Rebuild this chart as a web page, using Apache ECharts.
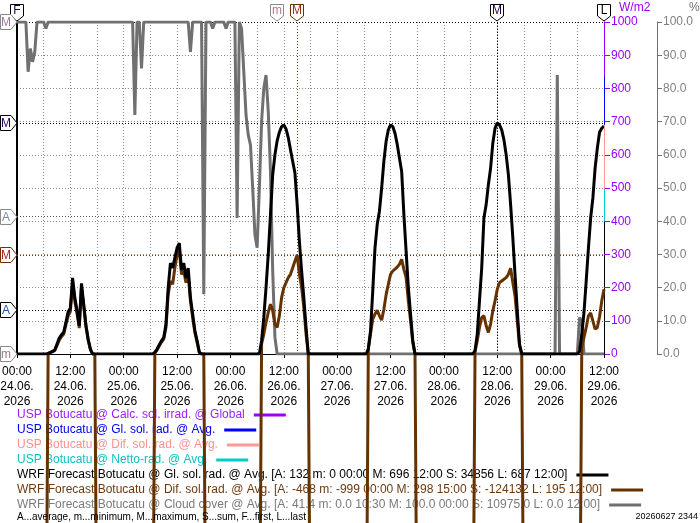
<!DOCTYPE html>
<html>
<head>
<meta charset="utf-8">
<script src="https://cdn.jsdelivr.net/npm/echarts@6/dist/echarts.min.js"></script>
<style>
  html, body { margin: 0; padding: 0; background: #fff; }
  #chart { width: 700px; height: 523px; }
</style>
</head>
<body>
<div id="chart"></div>
<script>
// half-hourly values, one row per day, 24.06. 00:00 .. 29.06. 12:00
const glDay1 = [0,0,0,0,0,0,0,0,0,0,0,0,0,0,
  2,5,8,12,30,48,58,66,95,127,138,229,170,130,85,213,150,87,45,15,0,0,
  0,0,0,0,0,0,0,0,0,0,0,0]
const glDay2 = [0,0,0,0,0,0,0,0,0,0,0,0,0,0,
  5,15,28,40,50,90,200,274,259,290,320,334,253,274,229,259,170,120,70,40,5,0,
  0,0,0,0,0,0,0,0,0,0,0,0]
const glDay3 = [0,0,0,0,0,0,0,0,0,0,0,0,0,0,
  40,110,200,300,420,540,600,642,668,685,690,678,652,615,580,545,450,340,250,170,80,0,
  0,0,0,0,0,0,0,0,0,0,0,0]
const glDay4 = [0,0,0,0,0,0,0,0,0,0,0,0,0,0,
  15,70,190,319,390,430,500,580,640,675,690,685,665,632,590,550,420,310,200,120,40,0,
  0,0,0,0,0,0,0,0,0,0,0,0]
const glDay5 = [0,0,0,0,0,0,0,0,0,0,0,0,0,0,
  10,60,160,259,410,450,510,560,635,680,696,690,675,645,600,540,450,350,238,130,30,0,
  0,0,0,0,0,0,0,0,0,0,0,0]
const glDay6 = [0,0,0,0,0,0,0,0,0,0,0,0,0,
  8,60,125,220,319,410,470,560,620,668,680,687]

const difDay1 = [-999,-999,-999,-999,-999,-999,-999,-999,-999,-999,-999,-999,-999,-999,
  2,4,7,11,26,42,52,60,88,115,128,215,160,122,78,200,145,83,42,13,0,0,
  -999,-999,-999,-999,-999,-999,-999,-999,-999,-999,-999,-999]
const difDay2 = [-999,-999,-999,-999,-999,-999,-999,-999,-999,-999,-999,-999,-999,-999,
  3,12,25,36,45,80,180,220,210,260,300,310,240,250,215,240,160,110,65,35,5,0,0,
  -999,-999,-999,-999,-999,-999,-999,-999,-999,-999,-999]
const difDay3 = [-999,-999,-999,-999,-999,-999,-999,-999,-999,-999,-999,-999,-999,-999,
  30,60,95,125,150,130,90,80,115,170,199,215,230,240,260,280,298,240,200,140,60,0,
  -999,-999,-999,-999,-999,-999,-999,-999,-999,-999,-999,-999]
const difDay4 = [-999,-999,-999,-999,-999,-999,-999,-999,-999,-999,-999,-999,-999,-999,
  15,60,105,120,132,115,102,135,178,210,240,250,256,262,270,285,255,230,160,100,35,0,
  -999,-999,-999,-999,-999,-999,-999,-999,-999,-999,-999,-999]
const difDay5 = [-999,-999,-999,-999,-999,-999,-999,-999,-999,-999,-999,-999,-999,-999,
  8,40,80,110,115,85,65,90,130,160,195,215,220,225,230,240,258,215,175,100,25,0,
  -999,-999,-999,-999,-999,-999,-999,-999,-999,-999,-999,-999]
const difDay6 = [-999,-999,-999,-999,-999,-999,-999,-999,-999,-999,-999,-999,-999,-999,
  18,50,80,115,124,100,75,80,112,160,195]

const cloudDay1 = [100,100,100,100,100,85,92,88,91,100,100,100,100,98,
  100,100,100,100,100,100,100,100,100,100,100,100,100,100,100,100,100,100,100,100,
  100,100,100,100,100,100,100,100,100,100,100,100,100,100]
const cloudDay2 = [100,100,100,100,100,72,100,100,86,100,
  100,100,100,100,100,100,100,100,100,100,100,100,100,100,100,100,100,100,100,
  100,91,100,100,100,100,100,18,100,100,100,98,100,100,100,100,100,98,100]
const cloudDay3 = [100,100,100,41,100,98,85,72,66,63,50,36,32,50,70,80,84,73,55,25,5,
  0,0,0,0,0,0,0,0,0,0,0,0,0,0,0,0,0,0,0,0,0,0,0,0,0,0,0]
const cloudDay4 = [0,0,0,0,0,0,0,0,0,0,0,0,0,0,0,0,0,0,0,0,0,0,0,0,
  0,0,0,0,0,0,0,0,0,0,0,0,0,0,0,0,0,0,0,0,0,0,0,0]
const cloudDay5 = [0,0,0,0,0,0,0,0,0,0,0,0,0,0,0,0,0,0,0,0,0,0,0,0,
  0,0,0,0,0,0,0,0,0,0,0,0,0,0,0,0,0,0,0,0,0,0,0,0]
const cloudDay6 = [0,0,0,84,0,0,0,0,0,0,0,0,0,11,10,0,0,0,0,0,0,0,0,0,0]

const glRad = [].concat(glDay1, glDay2, glDay3, glDay4, glDay5, glDay6)
const difRad = [].concat(difDay1, difDay2, difDay3, difDay4, difDay5, difDay6)
const cloud = [].concat(cloudDay1, cloudDay2, cloudDay3, cloudDay4, cloudDay5, cloudDay6)

// statistics shown as A/m/M markers (hour = hours since 24.06. 00:00)
const glStats = { avg: 132, max: 696, maxHour: 108 }
const difStats = { max: 298, maxHour: 63 }
const cloudStats = { avg: 41.4, max: 100, min: 0, minHour: 58.5 }

const timeLabels = ['00:00', '12:00']
const dateLabels = ['24.06.', '25.06.', '26.06.', '27.06.', '28.06.', '29.06.']
const yearLabel = '2026'

const names = [
  'USP Botucatu @ Calc. sol. irrad. @ Global',
  'USP Botucatu @ Gl. sol. rad. @ Avg.',
  'USP Botucatu @ Dif. sol. rad. @ Avg.',
  'USP Botucatu @ Netto-rad. @ Avg.',
  'WRF Forecast Botucatu @ Gl. sol. rad. @ Avg. [A: 132 m: 0 00:00 M: 696 12:00 S: 34856 L: 687 12:00]',
  'WRF Forecast Botucatu @ Dif. sol. rad. @ Avg. [A: -468 m: -999 00:00 M: 298 15:00 S: -124132 L: 195 12:00]',
  'WRF Forecast Botucatu @ Cloud cover @ Avg. [A: 41.4 m: 0.0 10:30 M: 100.0 00:00 S: 10975.0 L: 0.0 12:00]',
]
const lineColors = ['#9900ff', '#0000ff', '#ff9999', '#00cccc', '#000000', '#663300', '#707070']
const textColors = ['#9a1eff', '#0000ee', '#ff9090', '#10c0c0', '#000000', '#6e3a10', '#7a7a7a']

const FONT = '"Liberation Sans", Arial, sans-serif'
const PURPLE = '#9900ff'

const hours = glRad.map((v, i) => i * 0.5)
const pairs = (arr) => arr.map((v, i) => [hours[i], v])

const chart = echarts.init(document.getElementById('chart'))

const dotted = (color) => ({ color: color, width: 1, type: [1, 2] })

const emptySeries = [0, 1, 2, 3].map((i) => ({
  name: names[i],
  type: 'line',
  data: [],
  color: lineColors[i],
  yAxisIndex: 0,
}))

chart.setOption({
  animation: false,
  textStyle: { fontFamily: FONT },
  grid: { left: 17, right: 96, top: 22, bottom: 169, outerBoundsMode: 'none' },
  legend: names.map((n, i) => ({
    left: 17,
    top: 407.5 + i * 15,
    padding: 0,
    align: 'right',
    icon: 'rect',
    itemWidth: 32,
    itemHeight: 3,
    selectedMode: false,
    z: 3,
    textStyle: { fontSize: 12, lineHeight: 15, fontFamily: FONT, padding: [0, 4, 0, 0] },
    data: [{ name: n, textStyle: { color: textColors[i] } }],
  })),
  xAxis: {
    type: 'value',
    min: 0,
    max: 132,
    interval: 12,
    axisLine: { show: true, onZero: false, lineStyle: { color: '#000' } },
    axisTick: { show: true, length: 4, lineStyle: { color: '#000' } },
    axisLabel: {
      color: '#000',
      fontSize: 12,
      lineHeight: 15,
      margin: 10,
      formatter: (v) => timeLabels[(v % 24) / 12] + '\n' + dateLabels[Math.floor(v / 24)] + '\n' + yearLabel,
    },
    splitLine: { show: true, lineStyle: dotted('#8c8c8c') },
    minorTick: { show: false, splitNumber: 2 },
    minorSplitLine: { show: true, lineStyle: dotted('#8c8c8c') },
  },
  yAxis: [
    {
      type: 'value',
      min: 0,
      max: 1000,
      interval: 100,
      position: 'right',
      axisLine: { show: true, onZero: false, lineStyle: { color: '#000' } },
      axisTick: { show: true, length: 6, lineStyle: { color: PURPLE } },
      axisLabel: { color: PURPLE, fontSize: 12, margin: 7, formatter: (v) => String(v) },
      splitLine: { show: true, lineStyle: dotted('#8c8c8c') },
    },
    {
      type: 'value',
      min: 0,
      max: 100,
      interval: 10,
      position: 'right',
      offset: 53,
      axisLine: { show: true, onZero: false, lineStyle: { color: '#707070' } },
      axisTick: { show: true, length: 5, lineStyle: { color: '#707070' } },
      axisLabel: { color: '#7f7f87', fontSize: 12, margin: 6, formatter: (v) => v.toFixed(1) },
      splitLine: { show: false },
    },
    {
      type: 'value',
      min: 0,
      max: 1000,
      position: 'left',
      axisLine: { show: true, onZero: false, lineStyle: { color: '#000', width: 2 } },
      axisTick: { show: false },
      axisLabel: { show: false },
      splitLine: { show: false },
    },
  ],
  series: emptySeries.concat([
    {
      name: names[6],
      type: 'line',
      yAxisIndex: 1,
      data: pairs(cloud),
      color: lineColors[6],
      showSymbol: false,
      symbol: 'none',
      lineStyle: { width: 3 },
      z: 5,
      markLine: {
        silent: true,
        symbol: 'none',
        label: { show: false },
        lineStyle: dotted('#555'),
        data: [{ yAxis: cloudStats.avg }, { yAxis: cloudStats.max, lineStyle: dotted('#000') }],
      },
    },
    {
      name: names[5],
      type: 'line',
      yAxisIndex: 0,
      data: pairs(difRad),
      color: lineColors[5],
      showSymbol: false,
      symbol: 'none',
      clip: false,
      lineStyle: { width: 3 },
      z: 6,
      markLine: {
        silent: true,
        symbol: 'none',
        label: { show: false },
        lineStyle: dotted('#7a3a00'),
        data: [{ yAxis: difStats.max }, { xAxis: difStats.maxHour }],
      },
    },
    {
      name: names[4],
      type: 'line',
      yAxisIndex: 0,
      data: pairs(glRad),
      color: lineColors[4],
      showSymbol: false,
      symbol: 'none',
      lineStyle: { width: 3 },
      z: 7,
      markLine: {
        silent: true,
        symbol: 'none',
        label: { show: false },
        lineStyle: dotted('#000'),
        data: [{ yAxis: glStats.max }, { yAxis: glStats.avg }, { xAxis: glStats.maxHour }],
      },
    },
  ]),
})

// markers and texts placed through the axes
const px = (h) => chart.convertToPixel({ xAxisIndex: 0 }, h)
const pyW = (w) => chart.convertToPixel({ yAxisIndex: 0 }, w)
const pyC = (c) => chart.convertToPixel({ yAxisIndex: 1 }, c)

function txt(x, y, text, color, size, align) {
  return {
    type: 'text', x: x, y: y, z: 100,
    style: {
      text: text, fill: color, font: size + 'px ' + FONT,
      align: align, textAlign: align, verticalAlign: 'middle', textVerticalAlign: 'middle',
    },
  }
}

function topBadge(x, letter, stroke, fill) {
  return {
    type: 'group', x: Math.round(x), y: 0, z: 100,
    children: [
      { type: 'polygon', z: 100, shape: { points: [[-6.5, 4.5], [6.5, 4.5], [6.5, 16], [0, 21], [-6.5, 16]] },
        style: { fill: '#fff', stroke: stroke, lineWidth: 1 } },
      txt(0, 11, letter, fill, 12, 'center'),
    ],
  }
}

function leftBadge(y, letter, stroke, fill) {
  return {
    type: 'group', x: 0, y: Math.round(y), z: 100,
    children: [
      { type: 'polygon', z: 100, shape: { points: [[0.5, -7.5], [11, -7.5], [17, 0], [11, 7.5], [0.5, 7.5]] },
        style: { fill: '#fff', stroke: stroke, lineWidth: 1 } },
      txt(6, 0.5, letter, fill, 12, 'center'),
    ],
  }
}

function seg(x, y1, y2, color) {
  return { type: 'line', z: 50, shape: { x1: x + 0.5, y1: y1, x2: x + 0.5, y2: y2 }, style: { stroke: color, lineWidth: 1 } }
}

const xr = Math.round(px(132))
chart.setOption({
  graphic: [
    seg(xr, pyW(1000), pyW(835), PURPLE),
    seg(xr, pyW(835), pyW(690), '#0000ff'),
    seg(xr, pyW(690), pyW(495), '#ff9999'),
    seg(xr, pyW(495), pyW(400), '#00cccc'),
    topBadge(px(0), 'F', '#000', '#1a0040'),
    topBadge(px(cloudStats.minHour), 'm', '#8a8a8a', '#b07a8a'),
    topBadge(px(difStats.maxHour), 'M', '#663300', '#a03010'),
    topBadge(px(glStats.maxHour), 'M', '#000', '#200040'),
    topBadge(px(132), 'L', '#000', '#000'),
    leftBadge(pyC(cloudStats.max), 'M', '#8a8a8a', '#9a7a9a'),
    leftBadge(pyW(glStats.max), 'M', '#000', '#300060'),
    leftBadge(pyC(cloudStats.avg), 'A', '#8a8a8a', '#7a8aa0'),
    leftBadge(pyW(difStats.max), 'M', '#663300', '#b02020'),
    leftBadge(pyW(glStats.avg), 'A', '#000', '#2050b0'),
    leftBadge(pyC(cloudStats.min), 'm', '#8a8a8a', '#9a7a8a'),
    txt(619, 7.5, 'W/m2', PURPLE, 12, 'left'),
    txt(689, 7.5, '%', '#707070', 12, 'left'),
    txt(17, 517, 'A...average, m...minimum, M...maximum, S...sum, F...first, L...last', '#000', 10, 'left'),
    txt(698, 517, '20260627 2344', '#000', 9, 'right'),
  ],
})
</script>
</body>
</html>
